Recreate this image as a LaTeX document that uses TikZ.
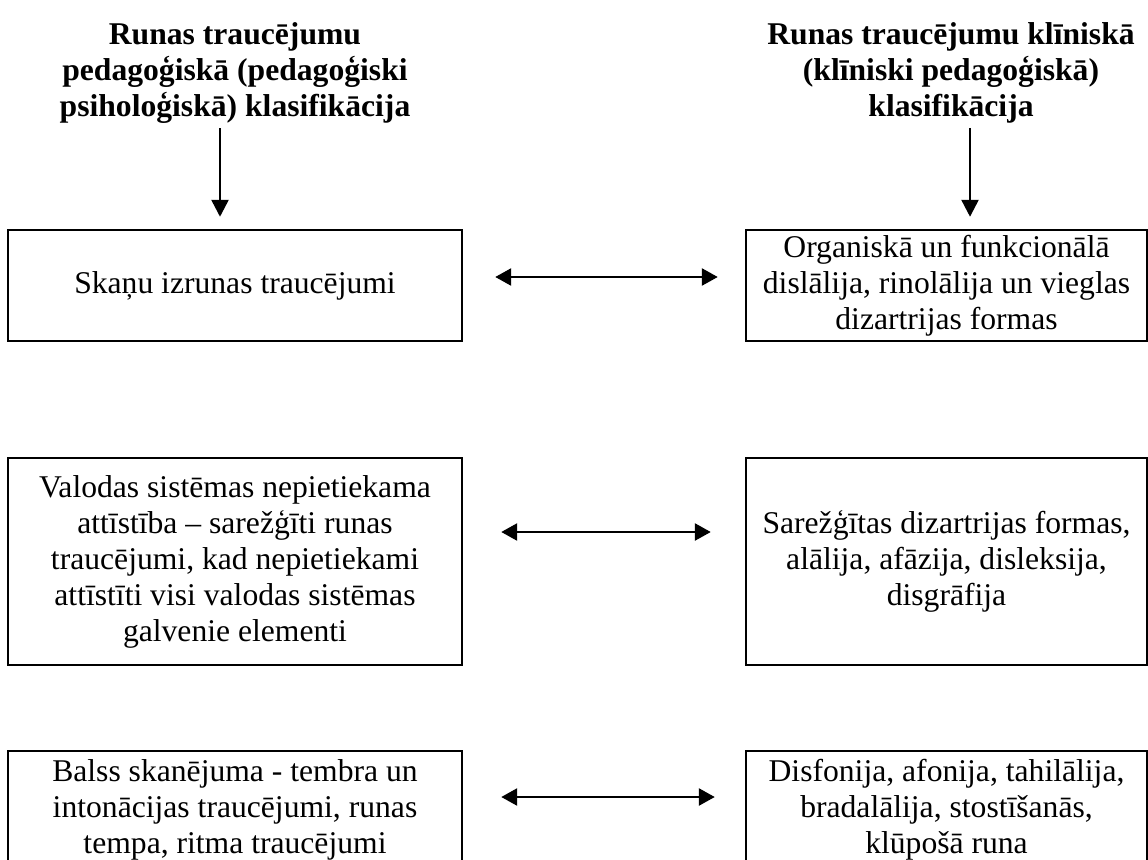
\documentclass[tikz,border=0pt]{standalone}
\usepackage{fontspec}
\setmainfont{Liberation Serif}
\usetikzlibrary{arrows.meta}
\begin{document}
\begin{tikzpicture}[
  every node/.style={font=\fontsize{18}{20.5}\selectfont},
  hdr/.style={align=center,inner sep=0pt,font=\fontsize{18}{20.5}\selectfont\bfseries},
  box/.style={draw,line width=1.4pt,align=center,inner sep=0pt},
  down/.style={-{Triangle[width=0.34cm,length=0.34cm]},line width=1.4pt},
  pair/.style={{Triangle[width=0.34cm,length=0.32cm]}-{Triangle[width=0.34cm,length=0.32cm]},line width=1.5pt}]
\useasboundingbox (0,0) rectangle (22.96,-17.18);
% headers
\node[hdr,anchor=north] (hdrL) at (4.7,-0.45) {Runas traucējumu\\pedagoģiskā (pedagoģiski\\psiholoģiskā) klasifikācija};
\node[hdr,anchor=north] (hdrR) at (19.02,-0.45) {Runas traucējumu klīniskā\\(klīniski pedagoģiskā)\\klasifikācija};
% left column
\node[box,minimum width=9.08cm,minimum height=2.22cm] (skL) at (4.7,-5.71) {Skaņu izrunas traucējumi};
\node[box,minimum width=9.08cm,minimum height=4.14cm] (valL) at (4.7,-11.23) {Valodas sistēmas nepietiekama\\attīstība – sarežģīti runas\\traucējumi, kad nepietiekami\\attīstīti visi valodas sistēmas\\galvenie elementi};
\node[box,minimum width=9.08cm,minimum height=2.36cm] (balL) at (4.7,-16.2) {Balss skanējuma - tembra un\\intonācijas traucējumi, runas\\tempa, ritma traucējumi};
% right column
\node[box,minimum width=8.02cm,minimum height=2.22cm] (skR) at (18.93,-5.71) {Organiskā un funkcionālā\\dislālija, rinolālija un vieglas\\dizartrijas formas};
\node[box,minimum width=8.02cm,minimum height=4.14cm] (valR) at (18.93,-11.23) {Sarežģītas dizartrijas formas,\\alālija, afāzija, disleksija,\\disgrāfija};
\node[box,minimum width=8.02cm,minimum height=2.36cm] (balR) at (18.93,-16.2) {Disfonija, afonija, tahilālija,\\bradalālija, stostīšanās,\\klūpošā runa};
% arrows
\draw[down,shorten <=0.08cm,shorten >=0.24cm] ([xshift=-0.3cm]hdrL.south) -- ([xshift=-0.3cm]hdrL.south |- skL.north);
\draw[down,shorten <=0.08cm,shorten >=0.24cm] ([xshift=0.38cm]hdrR.south) -- ([xshift=0.38cm]hdrR.south |- skR.north);
\draw[pair,shorten <=0.64cm,shorten >=0.54cm] ([yshift=0.17cm]skL.east) -- ([yshift=0.17cm]skL.east -| skR.west);
\draw[pair,shorten <=0.76cm,shorten >=0.68cm] ([yshift=0.59cm]valL.east) -- ([yshift=0.59cm]valL.east -| valR.west);
\draw[pair,shorten <=0.76cm,shorten >=0.6cm] ([yshift=0.26cm]balL.east) -- ([yshift=0.26cm]balL.east -| balR.west);
\end{tikzpicture}
\end{document}
